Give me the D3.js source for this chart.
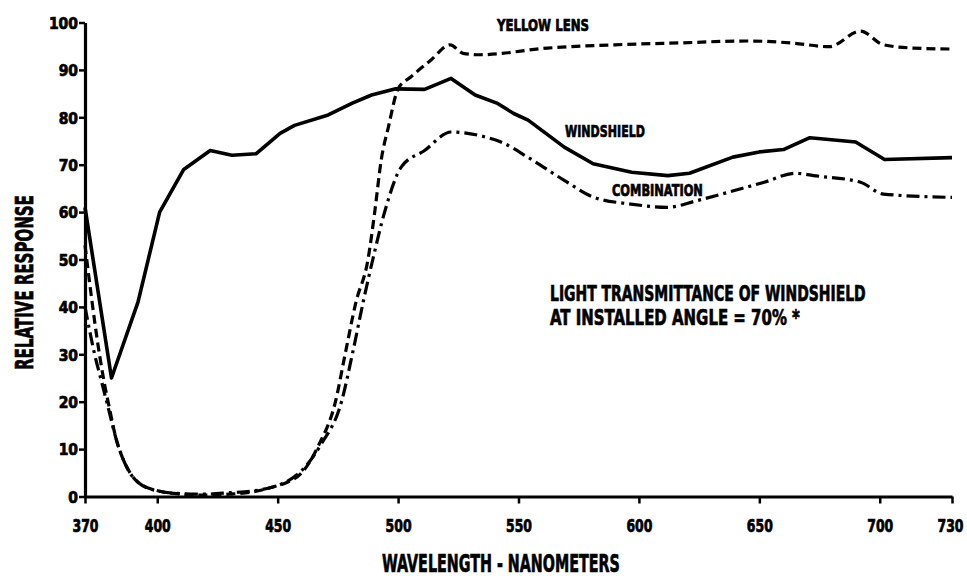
<!DOCTYPE html>
<html>
<head>
<meta charset="utf-8">
<script src="https://cdn.jsdelivr.net/npm/d3@7"></script>
<style>
  body { margin: 0; background: #fff; }
  svg { display: block; }
  text { font-family: "DejaVu Sans Condensed", "DejaVu Sans", sans-serif; font-stretch: condensed; font-weight: bold; fill: #000; stroke: #000; stroke-width: 0.7px; }
</style>
</head>
<body>
<svg id="chart" width="967" height="578"></svg>
<script>
// ticks
const xTicks = [370, 400, 450, 500, 550, 600, 650, 700, 730];
const yTicks = [0, 10, 20, 30, 40, 50, 60, 70, 80, 90, 100];

// windshield (solid)
const windshieldNm  = [370, 381, 392, 401, 411, 422, 431, 441, 451, 457, 471, 481, 489, 499, 511, 522, 532, 541, 548, 554, 569, 581, 597, 612, 621, 639, 650, 660, 671, 690, 702, 730];
const windshieldVal = [61, 25, 41, 60, 69, 73, 72, 72.3, 76.6, 78.3, 80.5, 83, 84.7, 86, 85.9, 88.2, 84.7, 83, 80.8, 79.4, 73.7, 70.2, 68.4, 67.7, 68.2, 71.6, 72.7, 73.2, 75.7, 74.8, 71.1, 71.5];

// yellow lens (dashed)
const yellowNm  = [370, 376, 378, 380, 383, 387, 392, 402, 410, 420, 430, 440, 448, 454, 460, 467, 474, 478, 482.5, 487.5, 490.3, 493, 496, 500, 505.5, 513.7, 521.6, 527, 534, 562, 590, 617, 645, 663, 679, 692, 701.5, 714, 730];
const yellowVal = [53, 30, 24, 19, 12, 6.6, 3, 1, 0.5, 0.3, 0.5, 1, 2, 3, 5, 10.8, 20, 30, 41, 50, 60, 71, 78, 86, 88.6, 92.1, 95.3, 93.5, 93.2, 94.6, 95.3, 95.7, 96.1, 95.7, 94.9, 98.2, 95.3, 94.6, 94.4];

// combination (dash-dot)
const comboNm  = [370, 374, 377, 380, 383, 387, 392, 400, 410, 420, 430, 440, 448, 455, 461, 468, 476.5, 481, 485.5, 489.5, 494.4, 501.3, 511, 522, 535.8, 542.7, 553.8, 569, 581.4, 596.6, 611.8, 624, 639.3, 652, 665, 672.5, 692, 701.5, 730];
const comboVal = [40, 30, 24, 18, 12, 6.5, 3, 1.2, 0.6, 0.5, 0.8, 1.2, 2, 3.5, 6, 11, 20, 30, 41, 50, 60, 69.5, 73, 76.9, 75.9, 74.8, 71.6, 66.7, 63.1, 61.7, 61, 62.4, 64.5, 66.3, 68.2, 67.7, 66.3, 63.8, 63.1];

const svg = d3.select('#chart');
svg.append('rect').attr('width', 967).attr('height', 578).attr('fill', '#fff');

const x = d3.scaleLinear().domain([370, 730]).range([85, 952]);
const y = d3.scaleLinear().domain([0, 100]).range([496.5, 22.5]);

// squeeze a text horizontally to a target width around its anchor point
function squeeze(sel, width, ax, ay) {
  const w = sel.node().getComputedTextLength();
  const k = width / w;
  sel.attr('transform', `translate(${ax},${ay}) scale(${k},1) translate(${-ax},${-ay})`);
}

// axes
const xAxis = svg.append('g')
  .attr('transform', `translate(0,${y(0)})`)
  .call(d3.axisBottom(x).tickValues(xTicks).tickSize(7).tickSizeOuter(0).tickFormat(d3.format('d')));
xAxis.selectAll('text')
  .attr('y', 36).attr('dy', 0)
  .attr('x', d => d === 730 ? -2 : 0)
  .attr('font-size', 17)
  .each(function(d) { squeeze(d3.select(this), 26, d === 730 ? -2 : 0, 36); });

const yAxis = svg.append('g')
  .attr('transform', `translate(${x(370)},0)`)
  .call(d3.axisLeft(y).tickValues(yTicks).tickSize(6).tickPadding(1).tickSizeOuter(0));
yAxis.selectAll('text')
  .attr('dy', '0.36em')
  .attr('font-size', 16)
  .each(function(d) { squeeze(d3.select(this), String(d).length * 9.7, -7, 0); });

svg.selectAll('.domain').attr('stroke', '#000').attr('stroke-width', 3.2);
svg.selectAll('.tick line').attr('stroke', '#000').attr('stroke-width', 2.5);
svg.selectAll('.tick text').attr('fill', '#000').style('font-family', null);

// lines
const zip = (a, b) => a.map((d, i) => [d, b[i]]);
const line = d3.line().x(d => x(d[0])).y(d => y(d[1]));

svg.append('path')
  .attr('d', line.curve(d3.curveLinear)(zip(windshieldNm, windshieldVal)))
  .attr('fill', 'none').attr('stroke', '#000').attr('stroke-width', 3.6)
  .attr('stroke-linejoin', 'round');

svg.append('path')
  .attr('d', line.curve(d3.curveMonotoneX)(zip(yellowNm, yellowVal)))
  .attr('fill', 'none').attr('stroke', '#000').attr('stroke-width', 3.2)
  .attr('stroke-dasharray', '9,5');

svg.append('path')
  .attr('d', line.curve(d3.curveMonotoneX)(zip(comboNm, comboVal)))
  .attr('fill', 'none').attr('stroke', '#000').attr('stroke-width', 3.2)
  .attr('stroke-dasharray', '13,5,3,5');

// labels
function label(txt, px, py, size, len) {
  const t = svg.append('text')
    .attr('x', px).attr('y', py)
    .attr('font-size', size)
    .text(txt);
  squeeze(t, len, px, py);
  return t;
}
label('YELLOW LENS', 497, 31.5, 16, 92);
label('WINDSHIELD', 565, 137, 16, 80);
label('COMBINATION', 612, 196.5, 16, 91);
label('LIGHT TRANSMITTANCE OF WINDSHIELD', 550, 301, 22, 316);
label('AT INSTALLED ANGLE = 70% *', 550, 325, 22, 250);
label('WAVELENGTH - NANOMETERS', 382, 572, 25, 238);

const yTitle = svg.append('g').attr('transform', 'translate(33,370) rotate(-90)')
  .append('text')
  .attr('font-size', 25)
  .text('RELATIVE RESPONSE');
squeeze(yTitle, 175, 0, 0);
</script>
</body>
</html>
